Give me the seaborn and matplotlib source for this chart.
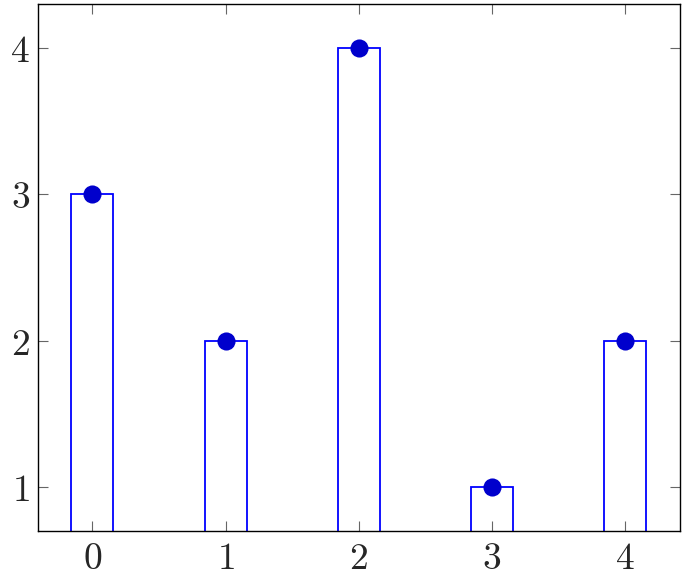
import matplotlib
matplotlib.use("Agg")
import matplotlib.pyplot as plt
import pandas as pd
import seaborn as sns

# values
positions = [0, 1, 2, 3, 4]
heights = [3, 2, 4, 1, 2]
y_ticks = [1, 2, 3, 4]

df = pd.DataFrame({"x": positions, "y": heights})

sns.set_style("ticks")
plt.rcParams["mathtext.fontset"] = "cm"
plt.rcParams["font.family"] = ["DejaVu Serif"]

fig, ax = plt.subplots(figsize=(6.84, 5.78), dpi=100)
fig.subplots_adjust(left=0.056, right=0.994, top=0.993, bottom=0.081)

sns.barplot(
    data=df, x="x", y="y", native_scale=True, width=0.315,
    fill=False, edgecolor="#0000ff", linewidth=1.3, errorbar=None, ax=ax,
)
sns.scatterplot(
    data=df, x="x", y="y", s=170, color="#0000cc",
    edgecolor="#0000cc", linewidth=0, zorder=5, ax=ax,
)

ax.set_xlim(-0.405, 4.41)
ax.set_ylim(0.70, 4.30)
ax.set_xticks(positions)
ax.set_xticklabels([f"${p}$" for p in positions])
ax.set_yticks(y_ticks)
ax.set_yticklabels([f"${t}$" for t in y_ticks])
ax.tick_params(direction="in", length=7, width=0.8, color="#666666",
               labelsize=27, top=True, right=True)
ax.tick_params(axis="x", pad=7)
ax.tick_params(axis="y", pad=6)
for sp in ax.spines.values():
    sp.set_visible(True)
    sp.set_color("black")
    sp.set_linewidth(1.0)
ax.set_xlabel("")
ax.set_ylabel("")

fig.savefig("out.png", dpi=100)
